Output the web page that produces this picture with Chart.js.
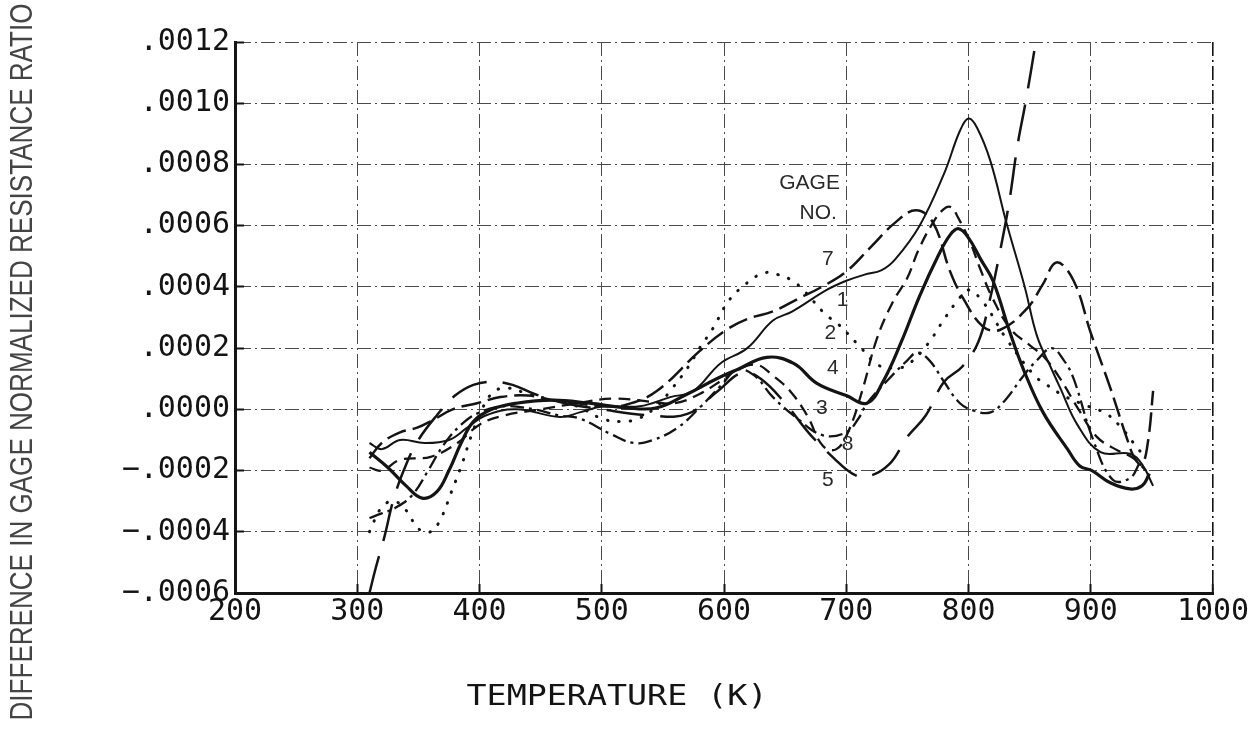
<!DOCTYPE html>
<html>
<head>
<meta charset="utf-8">
<title>Gage normalized resistance ratio difference</title>
<script src="https://cdn.jsdelivr.net/npm/chart.js@4.4.1/dist/chart.umd.min.js"></script>
<style>
    html, body { margin: 0; padding: 0; background: #fff; }
    #chart { display: block; }
</style>
</head>
<body>
<canvas id="chart" width="1256" height="730"></canvas>
<script>
/**
 * Difference in gage normalized resistance ratio vs. temperature.
 * Every series is a list of [temperature K, difference in units of 1e-4].
 */
(function () {
    "use strict";

    var tempTicks = [200, 300, 400, 500, 600, 700, 800, 900, 1000];
    var tempTickLabels = ["200", "300", "400", "500", "600", "700", "800", "900", "1000"];

    // ratio axis runs in units of 1e-4
    var ratioTicks = [-6, -4, -2, 0, 2, 4, 6, 8, 10, 12];
    var ratioTickLabels = ["\u2212.0006", "\u2212.0004", "\u2212.0002", ".0000", ".0002",
        ".0004", ".0006", ".0008", ".0010", ".0012"];

    var gage1 = [[310, -1.1], [320, -1.3], [335, -1.0], [355, -1.1], [375, -1.0], [390, -0.6],
        [405, -0.2], [430, 0.0], [466, -0.25], [482, -0.1], [501, 0.1], [531, 0.1], [556, 0.4],
        [575, 0.6], [597, 1.5], [619, 2.0], [640, 2.9], [656, 3.2], [684, 3.9], [700, 4.2],
        [715, 4.4], [729, 4.55], [740, 4.9], [760, 6.0], [780, 7.7], [793, 9.1], [800, 9.5],
        [807, 9.2], [818, 8.1], [831, 6.1], [846, 4.0], [856, 2.4], [867, 1.4], [875, 0.7],
        [889, -0.5], [908, -1.4], [932, -1.45], [942, -1.8], [951, -2.5]];

    var gage7 = [[310, -1.6], [320, -1.1], [335, -0.75], [349, -0.6], [362, -0.35], [378, 0.0],
        [398, 0.2], [417, 0.4], [440, 0.45], [460, 0.3], [480, 0.2], [500, 0.1], [520, 0.15],
        [545, 0.6], [580, 1.9], [602, 2.6], [619, 2.95], [640, 3.2], [660, 3.6], [680, 4.0],
        [700, 4.5], [720, 5.3], [740, 6.1], [757, 6.5], [771, 6.1], [785, 4.5], [796, 3.6],
        [812, 2.7], [826, 2.6], [848, 3.3], [861, 4.1], [872, 4.8], [886, 4.2], [900, 2.5],
        [916, 0.7], [930, -1.0], [936, -1.6], [942, -1.8], [947, -1.0], [951, 0.6]];

    var gage2 = [[310, -4.0], [320, -3.2], [330, -3.0], [340, -3.3], [350, -3.9], [360, -4.0],
        [368, -3.6], [377, -2.7], [386, -1.75], [393, -0.9], [402, 0.0], [411, 0.55], [422, 0.7],
        [440, 0.5], [460, 0.3], [480, 0.1], [500, -0.3], [515, -0.4], [530, -0.3], [545, 0.1],
        [556, 0.6], [571, 1.4], [580, 2.0], [591, 2.65], [603, 3.5], [615, 4.0], [632, 4.45],
        [644, 4.4], [656, 4.2], [666, 3.85], [683, 3.1], [693, 2.8], [710, 2.1], [726, 1.45],
        [740, 1.35], [750, 1.45], [766, 2.1], [781, 3.0], [792, 3.6], [800, 3.9], [812, 3.5],
        [831, 2.3], [854, 1.1], [864, 0.8], [880, 0.4], [898, 0.1], [913, -0.15], [925, -0.6],
        [935, -1.1], [945, -1.6]];

    var gage4 = [[310, -1.4], [325, -1.9], [340, -2.5], [353, -2.9], [365, -2.7], [375, -2.0],
        [385, -1.1], [395, -0.4], [410, 0.0], [430, 0.2], [460, 0.3], [490, 0.2], [520, 0.05],
        [545, 0.05], [570, 0.5], [594, 1.0], [611, 1.3], [635, 1.7], [657, 1.5], [676, 0.85],
        [700, 0.45], [717, 0.2], [730, 0.9], [745, 2.2], [760, 3.7], [775, 5.0], [785, 5.7],
        [792, 5.9], [800, 5.6], [810, 4.9], [820, 4.2], [834, 2.5], [845, 1.3], [861, -0.1],
        [881, -1.3], [891, -1.85], [901, -2.0], [916, -2.4], [932, -2.6], [942, -2.5], [948, -2.1]];

    var gage3 = [[310, -1.9], [320, -2.0], [335, -1.65], [360, -1.55], [382, -1.1], [400, -0.5],
        [420, -0.2], [450, 0.0], [480, 0.2], [510, 0.35], [540, 0.25], [560, 0.2], [580, 0.5],
        [600, 1.0], [611, 1.3], [627, 1.45], [640, 1.1], [654, 0.6], [668, -0.2], [681, -1.2],
        [692, -1.3], [702, -0.7], [713, 0.6], [725, 2.3], [738, 3.5], [750, 4.3], [759, 5.2],
        [771, 6.1], [780, 6.55], [786, 6.6], [791, 6.3], [801, 5.5], [809, 4.65], [820, 3.6],
        [835, 2.6], [850, 2.1], [862, 1.7], [875, 1.0], [890, 0.0], [905, -0.9], [920, -1.3],
        [935, -1.6], [945, -2.0]];

    var gage8 = [[310, -3.55], [320, -3.4], [332, -3.2], [345, -2.8], [358, -2.0], [370, -1.2],
        [385, -0.5], [400, -0.1], [420, 0.1], [445, 0.0], [465, -0.2], [482, -0.3], [507, -0.8],
        [526, -1.1], [542, -1.0], [562, -0.6], [580, 0.05], [598, 0.8], [611, 1.3], [625, 1.1],
        [640, 0.4], [660, -0.3], [681, -0.85], [700, -0.75], [710, -0.3], [717, 0.2], [735, 1.0],
        [750, 1.6], [758, 1.85], [768, 1.6], [780, 0.9], [793, 0.2], [805, -0.05], [818, -0.1],
        [830, 0.3], [845, 1.1], [856, 1.6], [868, 2.0], [878, 1.6], [886, 1.0], [902, -1.0],
        [918, -2.3], [932, -2.25], [940, -1.75]];

    var gage5 = [[310, -6.0], [315, -5.2], [322, -4.2], [330, -2.9], [340, -1.8], [350, -1.0],
        [365, -0.2], [380, 0.45], [395, 0.8], [410, 0.9], [427, 0.8], [445, 0.5], [470, 0.2],
        [500, 0.0], [540, -0.2], [570, -0.15], [595, 0.6], [615, 1.2], [630, 1.0], [650, 0.2],
        [670, -0.8], [690, -1.6], [705, -2.1], [717, -2.2], [735, -1.8], [750, -0.9], [765, -0.2],
        [780, 0.9], [795, 1.4], [808, 2.2], [817, 3.5], [825, 5.0], [833, 6.7], [840, 8.6],
        [847, 10.1], [855, 12.0], [860, 13.3]];

    // gage numbers written beside the curves: [text, temperature, difference]
    var gageNotes = [["GAGE", 670, 7.4], ["NO.", 677, 6.4], ["7", 685, 4.9], ["1", 697, 3.55],
        ["2", 687, 2.5], ["4", 689, 1.35], ["3", 680, 0.05], ["8", 701, -1.15], ["5", 685, -2.3]];

    var INK = "#141414";
    var GRID = "#4a4a4a";
    var MONO = "'DejaVu Sans Mono', 'Liberation Mono', monospace";

    function pts(list) {
        return list.map(function (p) {
            return { x: p[0], y: p[1] };
        });
    }

    function series(label, list, width, dash, cap) {
        return {
            label: label,
            data: pts(list),
            borderColor: INK,
            borderWidth: width,
            borderDash: dash,
            borderCapStyle: cap || "butt",
            pointRadius: 0,
            tension: 0.4,
            fill: false,
        };
    }

    // stretch a line of text to a given length around its centre
    function fitText(ctx, text, cx, cy, len, font, color, rot) {
        ctx.save();
        ctx.font = font;
        ctx.fillStyle = color;
        ctx.textAlign = "center";
        ctx.textBaseline = "middle";
        ctx.translate(cx, cy);
        ctx.rotate(rot);
        ctx.scale(len / ctx.measureText(text).width, 1);
        ctx.fillText(text, 0, 0);
        ctx.restore();
    }

    var notesPlugin = {
        id: "gageNotes",
        afterDraw: function (chart) {
            var ctx = chart.ctx;
            var xs = chart.scales.x;
            var ys = chart.scales.y;
            ctx.save();
            ctx.fillStyle = "#2a2a2a";
            ctx.font = "21px 'Liberation Sans', Arial, sans-serif";
            ctx.textAlign = "center";
            ctx.textBaseline = "middle";
            gageNotes.forEach(function (n) {
                ctx.fillText(n[0], xs.getPixelForValue(n[1]), ys.getPixelForValue(n[2]));
            });
            ctx.restore();

            fitText(ctx, "TEMPERATURE (K)", 617, 698, 301, "28px " + MONO, INK, 0);
            fitText(ctx, "DIFFERENCE IN GAGE NORMALIZED RESISTANCE RATIO", 23, 362, 717,
                "31px 'Liberation Sans', Arial, sans-serif", "#444", -Math.PI / 2);
        },
    };

    var gridDash = [14, 4, 2, 4];

    // the 1000 K line closes the frame, so draw it darker
    function edgeColor(c) {
        return c.tick && c.tick.value === 1000 ? INK : GRID;
    }

    new Chart(document.getElementById("chart"), {
        type: "line",
        data: {
            datasets: [
                series("1", gage1, 2, []),
                series("7", gage7, 2.5, [20, 7]),
                series("2", gage2, 3, [0.5, 11], "round"),
                series("4", gage4, 3.2, []),
                series("3", gage3, 2.3, [12, 7]),
                series("8", gage8, 2.3, [14, 5, 3, 5]),
                series("5", gage5, 2.5, [38, 16]),
            ],
        },
        options: {
            responsive: false,
            animation: false,
            events: [],
            layout: { padding: { top: 42, right: 43, left: 0, bottom: 0 } },
            plugins: {
                legend: { display: false },
                tooltip: { enabled: false },
            },
            scales: {
                x: {
                    type: "linear",
                    min: 200,
                    max: 1000,
                    afterFit: function (s) {
                        s.height = 137;
                        s.paddingLeft = 0;
                        s.paddingRight = 0;
                    },
                    afterBuildTicks: function (s) {
                        s.ticks = tempTicks.map(function (v) {
                            return { value: v };
                        });
                    },
                    ticks: {
                        autoSkip: false,
                        maxRotation: 0,
                        padding: 13,
                        color: INK,
                        font: { family: MONO, size: 30, lineHeight: 1 },
                        callback: function (val, idx) {
                            return tempTickLabels[idx];
                        },
                    },
                    grid: {
                        color: edgeColor,
                        lineWidth: function (c) {
                            return c.tick && c.tick.value === 1000 ? 1.6 : 1;
                        },
                        drawTicks: true,
                        tickLength: -9,
                        tickWidth: 2,
                        tickColor: INK,
                    },
                    border: { display: true, color: INK, width: 3, dash: gridDash },
                },
                y: {
                    type: "linear",
                    min: -6,
                    max: 12,
                    afterFit: function (s) {
                        s.width = 235;
                    },
                    afterBuildTicks: function (s) {
                        s.ticks = ratioTicks.map(function (v) {
                            return { value: v };
                        });
                    },
                    ticks: {
                        padding: 14,
                        color: INK,
                        font: { family: MONO, size: 30, lineHeight: 1 },
                        callback: function (val, idx) {
                            return ratioTickLabels[idx];
                        },
                    },
                    grid: {
                        color: GRID,
                        lineWidth: 1,
                        drawTicks: true,
                        tickLength: -9,
                        tickWidth: 2,
                        tickColor: INK,
                    },
                    border: { display: true, color: INK, width: 3, dash: gridDash },
                },
            },
        },
        plugins: [notesPlugin],
    });
})();
</script>
</body>
</html>
